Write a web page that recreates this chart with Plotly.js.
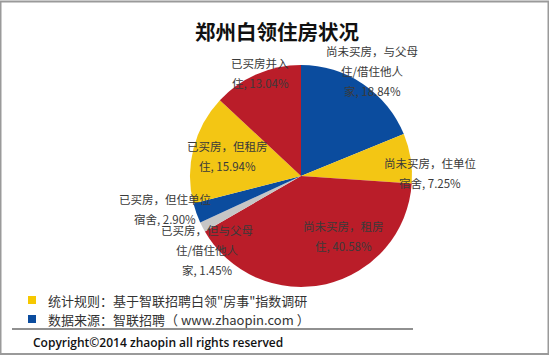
<!DOCTYPE html>
<html>
<head>
<meta charset="utf-8">
<script src="https://cdn.plot.ly/plotly-3.0.1.min.js"></script>
<style>html,body{margin:0;padding:0;background:#fff;}#chart{width:549px;height:355px;}</style>
</head>
<body>
<div id="chart"></div>
<script>
// ---- data ----
const categories = [
  "尚未买房，与父母住/借住他人家",
  "尚未买房，住单位宿舍",
  "尚未买房，租房住",
  "已买房，但与父母住/借住他人家",
  "已买房，但住单位宿舍",
  "已买房，但租房住",
  "已买房并入住"
];
const shares = [18.84, 7.25, 40.58, 1.45, 2.90, 15.94, 13.04];
const sliceColors = ["#0B4C9E", "#F3C614", "#BA1D29", "#C6C6C6", "#0B4C9E", "#F3C614", "#BA1D29"];
const chartTitle = "郑州白领住房状况";
const noteLines = ["统计规则：基于智联招聘白领\"房事\"指数调研", "数据来源：智联招聘（ www.zhaopin.com ）"];
const noteColors = ["#F6C800", "#0B4C9E"];
const copyright = "Copyright©2014 zhaopin all rights reserved";

// ---- label styling (line breaks & placement) ----
const lineBreaks = [[8, 14], [8], [7], [8, 14], [8], [7], [5]];
const labelRadius = [1.14, 1.16, 0.66, 1.08, 1.26, 0.69, 1.0];
const labelShift = [0.3, 8, -22, -11, 6, 1, 2];

// ---- geometry ----
const W = 549, H = 355;
const cx = 301, cy = 176, R = 111;

function fmt(v) { return v.toFixed(2) + "%"; }
function splitLabel(name, breaks, v) {
  const lines = [];
  let start = 0;
  breaks.forEach(b => { lines.push(name.slice(start, b)); start = b; });
  lines.push(name.slice(start) + ", " + fmt(v));
  return lines;
}

const total = shares.reduce((a, b) => a + b, 0);
const annotations = [];
let cum = 0;
shares.forEach((v, i) => {
  const mid = (cum + v / 2) / total * 360 + labelShift[i];
  cum += v;
  const a = mid * Math.PI / 180;
  const px = cx + labelRadius[i] * R * Math.sin(a);
  const py = cy - labelRadius[i] * R * Math.cos(a);
  const lines = splitLabel(categories[i], lineBreaks[i], v);
  const lh = 20;
  lines.forEach((t, k) => {
    const ly = py + (k - (lines.length - 1) / 2) * lh;
    annotations.push({
      x: px / W, y: 1 - ly / H, xref: "paper", yref: "paper",
      text: t, showarrow: false, xanchor: "center", yanchor: "middle",
      font: {family: "Noto Sans CJK SC, sans-serif", size: 11.5, color: "#3a3a3a"}
    });
  });
});

// title
annotations.push({
  x: 277 / W, y: 1 - 31 / H, xref: "paper", yref: "paper", text: "<b>" + chartTitle + "</b>",
  showarrow: false, xanchor: "center", yanchor: "middle",
  font: {family: "Noto Sans CJK SC, sans-serif", size: 20.5, color: "#111"}
});
// notes
const shapes = [];
noteLines.forEach((t, i) => {
  const y = 300 + i * 19;
  annotations.push({
    x: 46 / W, y: 1 - y / H, xref: "paper", yref: "paper", text: t,
    showarrow: false, xanchor: "left", yanchor: "middle",
    font: {family: "Noto Sans CJK SC, sans-serif", size: 13, color: "#333"}
  });
  shapes.push({type: "rect", xref: "paper", yref: "paper",
    x0: 28 / W, x1: 36 / W, y0: 1 - (y - 4) / H, y1: 1 - (y + 4) / H,
    fillcolor: noteColors[i], line: {width: 0}});
});
annotations.push({
  x: 31 / W, y: 1 - 342 / H, xref: "paper", yref: "paper", text: copyright,
  showarrow: false, xanchor: "left", yanchor: "middle",
  font: {family: "Open Sans, sans-serif", size: 12, color: "#111", weight: 600}
});
shapes.push({type: "line", xref: "paper", yref: "paper", x0: 12 / W, x1: 413 / W,
  y0: 1 - 329 / H, y1: 1 - 329 / H, line: {color: "#222", width: 1.2}});
shapes.push({type: "rect", xref: "paper", yref: "paper", x0: 0.5 / W, x1: 548.5 / W,
  y0: 1 - 354 / H, y1: 1 - 1.5 / H, line: {color: "#9a9a9a", width: 2}});

const trace = {
  type: "pie",
  labels: categories,
  values: shares,
  sort: false,
  direction: "clockwise",
  rotation: 0,
  textinfo: "none",
  hoverinfo: "label+percent",
  marker: {colors: sliceColors, line: {width: 0}},
  domain: {x: [(cx - R) / W, (cx + R) / W], y: [1 - (cy + R) / H, 1 - (cy - R) / H]},
  showlegend: false
};

Plotly.newPlot("chart", [trace], {
  width: W, height: H,
  margin: {l: 0, r: 0, t: 0, b: 0},
  paper_bgcolor: "#fff",
  showlegend: false,
  annotations: annotations,
  shapes: shapes
}, {displayModeBar: false, staticPlot: true});
</script>
</body>
</html>
